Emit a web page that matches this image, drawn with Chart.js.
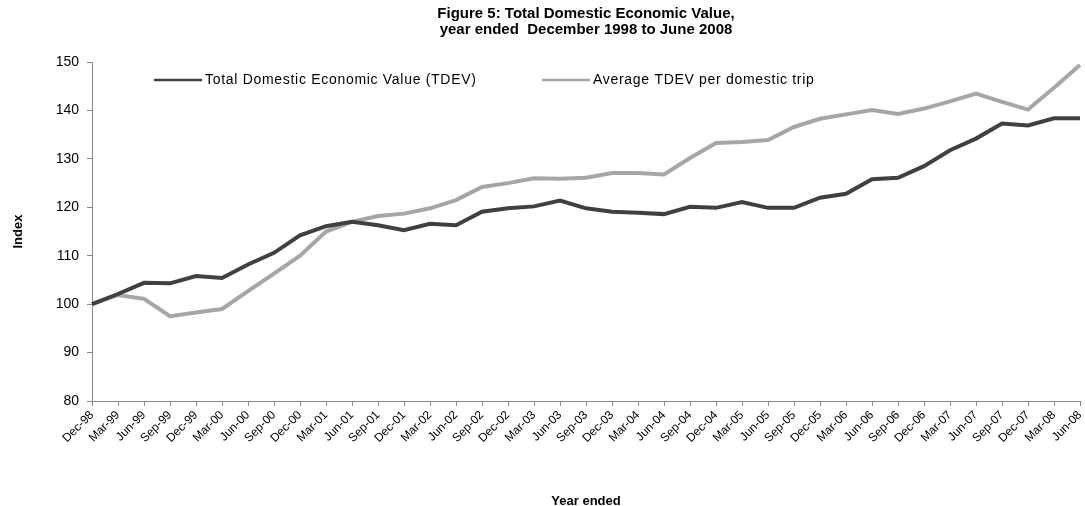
<!DOCTYPE html>
<html>
<head>
<meta charset="utf-8">
<script src="https://cdn.jsdelivr.net/npm/chart.js@4.4.0/dist/chart.umd.min.js"></script>
<style>
  html, body { margin: 0; padding: 0; background: #fff; }
  #wrap { width: 1085px; height: 506px; position: relative; }
</style>
</head>
<body>
<div id="wrap"><canvas id="chart"></canvas></div>
<script>
const quarters = ['Dec-98','Mar-99','Jun-99','Sep-99','Dec-99','Mar-00','Jun-00','Sep-00','Dec-00',
  'Mar-01','Jun-01','Sep-01','Dec-01','Mar-02','Jun-02','Sep-02','Dec-02','Mar-03','Jun-03',
  'Sep-03','Dec-03','Mar-04','Jun-04','Sep-04','Dec-04','Mar-05','Jun-05','Sep-05','Dec-05',
  'Mar-06','Jun-06','Sep-06','Dec-06','Mar-07','Jun-07','Sep-07','Dec-07','Mar-08','Jun-08'];

const tdev = [100, 102.1, 104.4, 104.3, 105.8, 105.4, 108.2, 110.6, 114.2,
  116.1, 117, 116.3, 115.3, 116.6, 116.3, 119.1, 119.8, 120.2, 121.4,
  119.8, 119.1, 118.9, 118.6, 120.1, 119.9, 121.1, 119.9, 119.9, 122,
  122.8, 125.8, 126.1, 128.5, 131.8, 134.2, 137.3, 136.9, 138.4, 138.4];

const avgPerTrip = [100, 101.9, 101.1, 97.5, 98.3, 99, 102.7, 106.3, 110,
  115, 117, 118.2, 118.7, 119.8, 121.5, 124.2, 125, 126, 125.9,
  126.1, 127.1, 127.1, 126.8, 130.2, 133.3, 133.5, 133.9, 136.6, 138.3,
  139.2, 140.1, 139.3, 140.4, 141.9, 143.5, 141.8, 140.2, 144.7, 149.4];

const titleLines = ['Figure 5: Total Domestic Economic Value,', 'year ended  December 1998 to June 2008'];

const sans = '"Liberation Sans", Arial, sans-serif';

// legend drawn inside the plot area, like the original
const insideLegend = {
  id: 'insideLegend',
  afterDraw(chart) {
    const ctx = chart.ctx;
    const area = chart.chartArea;
    const starts = [area.left + 62, area.left + 450];
    const y = area.top + 18;
    ctx.save();
    ctx.font = '14px ' + sans;
    ctx.letterSpacing = '0.7px';
    ctx.textBaseline = 'middle';
    ctx.fillStyle = '#000';
    chart.data.datasets.forEach((ds, i) => {
      const x = starts[i];
      ctx.strokeStyle = ds.borderColor;
      ctx.lineWidth = 2.5;
      ctx.beginPath();
      ctx.moveTo(x, y);
      ctx.lineTo(x + 48, y);
      ctx.stroke();
      ctx.fillText(ds.label, x + 51, y);
    });
    ctx.restore();
  }
};

new Chart(document.getElementById('chart'), {
  type: 'line',
  data: {
    labels: quarters,
    datasets: [
      {
        label: 'Total Domestic Economic Value (TDEV)',
        data: tdev,
        borderColor: '#404040',
        borderWidth: 4,
        pointRadius: 0,
        tension: 0
      },
      {
        label: 'Average TDEV per domestic trip',
        data: avgPerTrip,
        borderColor: '#a6a6a6',
        borderWidth: 4,
        pointRadius: 0,
        tension: 0
      }
    ]
  },
  options: {
    responsive: true,
    maintainAspectRatio: false,
    animation: false,
    layout: { padding: { left: 0, right: 5, top: 0, bottom: 0 } },
    plugins: {
      legend: { display: false },
      tooltip: { enabled: false },
      title: {
        display: true,
        fullSize: false,
        text: titleLines,
        color: '#000',
        font: { family: sans, size: 15, weight: 'bold', lineHeight: 1.07 },
        padding: { top: 6, bottom: 24 }
      }
    },
    scales: {
      x: {
        offset: false,
        grid: { display: true, drawOnChartArea: false, drawTicks: true, tickLength: 5, color: '#888' },
        border: { display: true, color: '#888' },
        ticks: {
          autoSkip: false,
          maxRotation: 45,
          minRotation: 45,
          color: '#000',
          padding: 2,
          font: { family: sans, size: 12 }
        },
        title: {
          display: true,
          text: 'Year ended',
          color: '#000',
          font: { family: sans, size: 13, weight: 'bold' },
          padding: { top: 20, bottom: -3 }
        },
        afterFit(scale) {
          scale.height = 105;
          scale.paddingRight = 0;
          scale.paddingLeft = 0;
        }
      },
      y: {
        min: 80,
        max: 150,
        grid: { display: true, drawOnChartArea: false, drawTicks: true, tickLength: 5, color: '#888' },
        border: { display: true, color: '#888' },
        ticks: {
          stepSize: 10,
          color: '#000',
          padding: 8,
          font: { family: sans, size: 14 }
        },
        title: {
          display: true,
          text: 'Index',
          color: '#000',
          font: { family: sans, size: 13, weight: 'bold' },
          padding: { top: 11, bottom: 11 }
        },
        afterFit(scale) { scale.width = 92; }
      }
    }
  },
  plugins: [insideLegend]
});
</script>
</body>
</html>
